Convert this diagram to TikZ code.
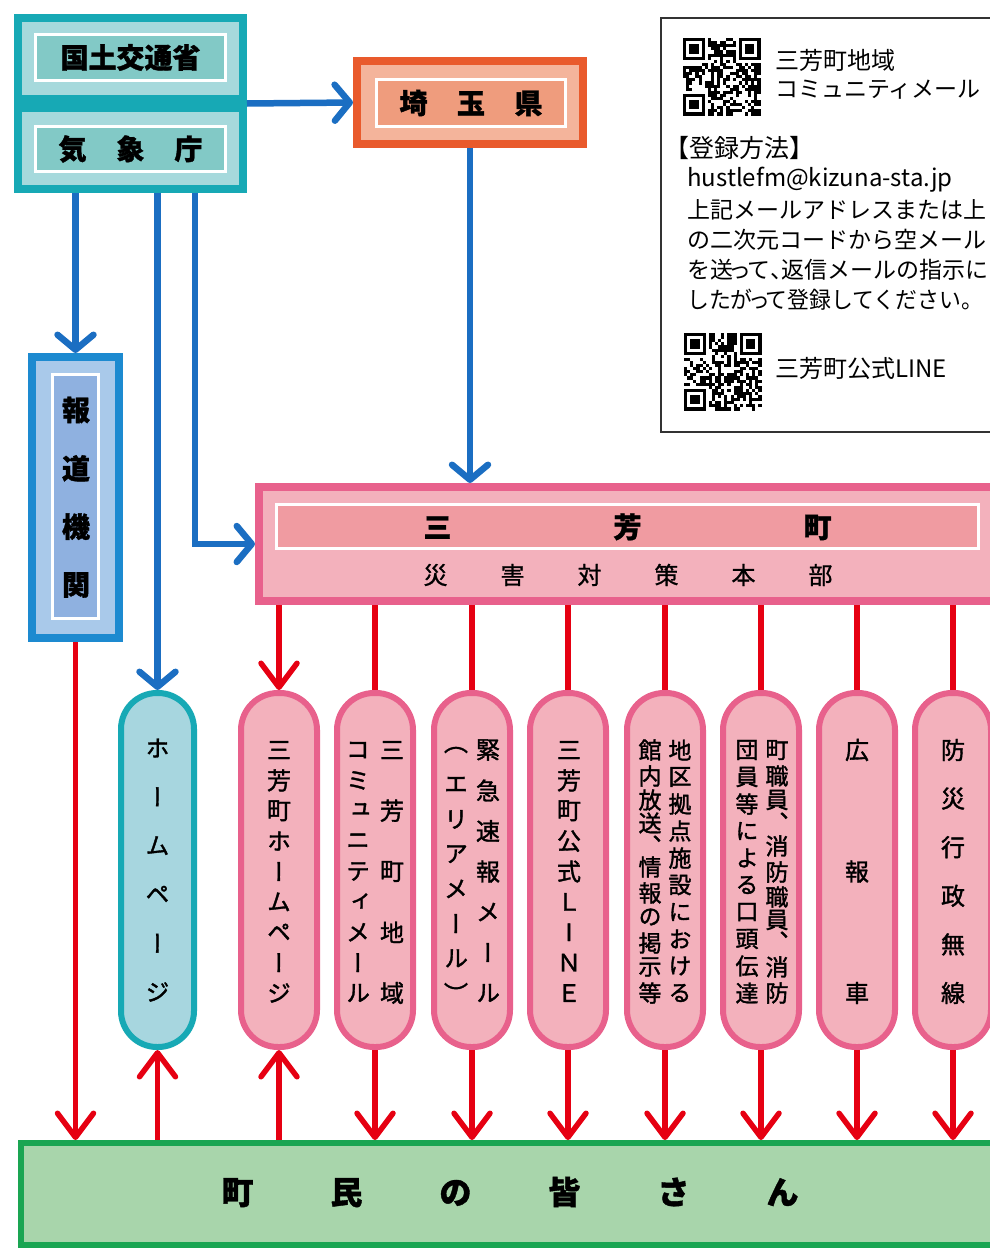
\documentclass[tikz,border=0pt]{standalone}
\usepackage{fontspec}
\setmainfont{Noto Sans CJK JP}[BoldFeatures={FakeBold=1.2}]
\newfontfamily\jpv{Noto Sans CJK JP}[RawFeature=+vert, FakeBold=1.5, BoldFeatures={FakeBold=1.2}]
\newfontfamily\jpm{Noto Sans CJK JP}[FakeBold=1.0]
\usetikzlibrary{arrows.meta}
\definecolor{cTealB}{HTML}{17A9B5}
\definecolor{cTealL}{HTML}{A6D9DC}
\definecolor{cTealM}{HTML}{82C9C6}
\definecolor{cBlue}{HTML}{1B6EC2}
\definecolor{cOrB}{HTML}{E95A2C}
\definecolor{cOrL}{HTML}{F4B49B}
\definecolor{cOrM}{HTML}{EF9C7D}
\definecolor{cPrB}{HTML}{1D8AD0}
\definecolor{cPrL}{HTML}{A9C9EA}
\definecolor{cPrM}{HTML}{8FB1E0}
\definecolor{cPkB}{HTML}{E8618C}
\definecolor{cPkL}{HTML}{F3B1BC}
\definecolor{cPkM}{HTML}{F09BA1}
\definecolor{cHpL}{HTML}{A7D6DF}
\definecolor{cRed}{HTML}{E60012}
\definecolor{cGrB}{HTML}{1AA552}
\definecolor{cGrL}{HTML}{A8D5AB}
\definecolor{cGray}{HTML}{333333}

\newcommand\qrcode[3]{%
  \begin{scope}[shift={(#1,#2)}]
    \pgfmathsetseed{#3}
    \foreach \qi in {0,...,24}{
      \foreach \qj in {0,...,24}{
        \pgfmathtruncatemacro\qrskip{((\qi<8)&&(\qj<8))||((\qi>16)&&(\qj<8))||((\qi<8)&&(\qj>16))}
        \ifnum\qrskip=0
          \pgfmathtruncatemacro\qron{rnd<0.55}
          \ifnum\qron=1 \fill[black] (\qi*3.1,\qj*3.1) rectangle ++(3.1,3.1);\fi
        \fi
      }
    }
    \foreach \qa/\qb in {0/0,55.8/0,0/55.8}{
      \fill[black] (\qa,\qb) rectangle ++(21.7,21.7);
      \fill[white] (\qa+3.1,\qb+3.1) rectangle ++(15.5,15.5);
      \fill[black] (\qa+6.2,\qb+6.2) rectangle ++(9.3,9.3);
    }
  \end{scope}}

% #1 style, #2 name, #3 x, #4 ytop, #5 ybot, #6 n, #7 list
\newcommand\vcolumn[7]{%
  \foreach \ch [count=\k from 0] in {#7}{
    \node[#1] (#2-\k) at ({#3},{#4+\k*(#5-#4)/(#6-1)}) {\ch};
  }}
% #1 style, #2 name, #3 x, #4 list y/char
\newcommand\vcolumnxy[4]{%
  \foreach \yy/\ch [count=\k] in {#4}{
    \node[#1] (#2-\k) at (#3,\yy) {\ch};
  }}
\newcommand\nar[1]{\makebox[0.6em][c]{#1}}
\newcommand\hcm{\makebox[0.5em][l]{、}}

\tikzset{
  plainbox/.style={inner sep=0pt, outer sep=0pt},
  bluearrow/.style={draw=cBlue, line width=6.5pt, -{Straight Barb[length=15pt,width=36pt,round]}},
  redline/.style={draw=cRed, line width=5.5pt},
  redarrow/.style={redline, -{Straight Barb[length=24pt,width=36pt,round]}},
  pinkpill/.style={draw=cPkB, fill=cPkL, line width=6pt, minimum width=76pt, minimum height=354pt, rounded corners=37pt, inner sep=0pt},
  bluepill/.style={draw=cTealB, fill=cHpL, line width=6pt, minimum width=73pt, minimum height=354pt, rounded corners=36pt, inner sep=0pt},
  boldtxt/.style={font=\bfseries\fontsize{28}{28}\selectfont, inner sep=0pt},
  vchar/.style={font=\jpv\fontsize{24}{24}\selectfont, inner sep=0pt},
  vcharsm/.style={font=\jpv\fontsize{23}{23}\selectfont, inner sep=0pt},
  vbold/.style={font=\jpv\bfseries\fontsize{28}{28}\selectfont, inner sep=0pt},
  infotxt/.style={font=\fontsize{23}{30}\selectfont, inner sep=0pt, anchor=west},
}

\begin{document}
\begin{tikzpicture}[x=1pt,y=-1pt]
\useasboundingbox[fill=white] (0,0) rectangle (990,1250);

% ---- info box (top right)
\node[draw=cGray, fill=white, line width=2pt, minimum width=343pt, minimum height=414pt, plainbox] (info) at (832.5,225) {};
\qrcode{683}{38}{7}
\qrcode{684}{333}{19}
\node[infotxt, font=\fontsize{24}{30}\selectfont] (i1) at (775,60) {三芳町地域};
\node[infotxt] (i2) at (775,90) {コミュニティメール};
\node[infotxt, font=\fontsize{25}{30}\selectfont] (i3) at (664,148) {【登録方法】};
\node[infotxt, font=\fontsize{24}{30}\selectfont] (i4) at (687,180) {hustlefm@kizuna-sta.jp};
\node[infotxt] (i5) at (687,210) {上記メールアドレスまたは上};
\node[infotxt] (i6) at (687,240) {の二次元コードから空メール};
\node[infotxt] (i7) at (687,270) {を送\nar{っ}て\hcm 返信メールの指示に};
\node[infotxt] (i8) at (687,300) {\scalebox{0.95}[1]{したが\nar{っ}て登録してください。}};
\node[infotxt, font=\fontsize{24}{30}\selectfont] (i9) at (775,368) {三芳町公式LINE};

% ---- MLIT / JMA group
\node[fill=cTealB, minimum width=233pt, minimum height=179pt, plainbox] (grp) at (130.5,103.5) {};
\node[fill=cTealL, minimum width=217pt, minimum height=73pt, plainbox] (mlitp) at (130.5,58.5) {};
\node[fill=cTealL, minimum width=217pt, minimum height=73pt, plainbox] (jmap) at (130.5,148.5) {};
\node[fill=cTealM, draw=white, line width=3pt, minimum width=190pt, minimum height=46pt, inner sep=0pt] (mlit) at (130.5,57.5) {};
\node[fill=cTealM, draw=white, line width=3pt, minimum width=190pt, minimum height=45pt, inner sep=0pt] (jma) at (130.5,149) {};
\node[boldtxt] (t-mlit) at (mlit) {国土交通省};
\node[boldtxt] (t-jma) at (jma) {気\hspace{30pt}象\hspace{30pt}庁};

% ---- Saitama
\node[draw=cOrB, fill=cOrL, line width=8pt, minimum width=226pt, minimum height=83pt, inner sep=0pt] (sai) at (470,102.5) {};
\node[fill=cOrM, draw=white, line width=3pt, minimum width=189pt, minimum height=47pt, inner sep=0pt] (saiin) at (471,103) {};
\node[boldtxt] (t-sai) at (saiin) {埼\hspace{29.5pt}玉\hspace{29.5pt}県};

% ---- Press
\node[draw=cPrB, fill=cPrL, line width=8pt, minimum width=87pt, minimum height=281pt, inner sep=0pt] (press) at (75.5,497.5) {};
\node[fill=cPrM, draw=white, line width=3pt, minimum width=46pt, minimum height=244pt, inner sep=0pt] (pressin) at (75.5,496.5) {};
\vcolumn{vbold}{tp}{76}{410}{585}{4}{報,道,機,関}

% ---- Miyoshi HQ
\node[draw=cPkB, fill=cPkL, line width=8pt, minimum width=742pt, minimum height=114pt, inner sep=0pt] (hq) at (630,544) {};
\node[fill=cPkM, draw=white, line width=3pt, minimum width=702pt, minimum height=44pt, inner sep=0pt] (hqin) at (627.5,526.5) {};
\node[boldtxt] (t-hq1) at (627.5,527) {三\hspace{162pt}芳\hspace{162pt}町};
\node[font=\jpm\fontsize{24}{24}\selectfont, inner sep=0pt] (t-hq2) at (628,575) {災\hspace{53pt}害\hspace{53pt}対\hspace{53pt}策\hspace{53pt}本\hspace{53pt}部};

% ---- pills
\node[bluepill] (hp) at (157.5,870) {};
\node[pinkpill] (p1) at (279,870) {};
\node[pinkpill] (p2) at (375,870) {};
\node[pinkpill] (p3) at (472,870) {};
\node[pinkpill] (p4) at (568,870) {};
\node[pinkpill] (p5) at (665,870) {};
\node[pinkpill] (p6) at (761,870) {};
\node[pinkpill] (p7) at (857,870) {};
\node[pinkpill] (p8) at (953,870) {};

\vcolumn{vchar}{thp}{157.5}{748}{992}{6}{ホ,ー,ム,ペ,ー,ジ}
\vcolumn{vchar}{tp1}{279}{750}{993}{9}{三,芳,町,ホ,ー,ム,ペ,ー,ジ}
\vcolumn{vchar}{tp2r}{392}{750}{993}{5}{三,芳,町,地,域}
\vcolumn{vchar}{tp2l}{358}{750}{993}{9}{コ,ミ,ュ,ニ,テ,ィ,メ,ー,ル}
\vcolumn{vchar}{tp3r}{488}{750}{993}{7}{緊,急,速,報,メ,ー,ル}
\vcolumn{vchar}{tp3l}{456}{750}{993}{8}{（,エ,リ,ア,メ,ー,ル,）}
\vcolumn{vchar}{tp4}{569}{750}{993}{9}{三,芳,町,公,式,Ｌ,I,Ｎ,Ｅ}
\vcolumn{vcharsm}{tp5r}{680}{750}{993}{10}{地,区,拠,点,施,設,に,お,け,る}
\vcolumnxy{vcharsm}{tp5l}{650}{750/館,776/内,800/放,823/送,845/、,867/情,893/報,917/の,943/掲,967/示,993/等}
\vcolumnxy{vcharsm}{tp6r}{777}{750/町,776/職,800/員,822/、,846/消,872/防,897/職,920/員,941/、,967/消,993/防}
\vcolumn{vcharsm}{tp6l}{747}{750}{993}{10}{団,員,等,に,よ,る,口,頭,伝,達}
\vcolumn{vchar}{tp7}{857}{750}{993}{3}{広,報,車}
\vcolumn{vchar}{tp8}{953}{750}{993}{6}{防,災,行,政,無,線}

% ---- residents
\node[draw=cGrB, fill=cGrL, line width=6pt, minimum width=981pt, minimum height=102pt, inner sep=0pt] (town) at (511.5,1194) {};
\node[font=\bfseries\fontsize{32}{32}\selectfont, inner sep=0pt] (t-town) at (510,1192) {町\hspace{77pt}民\hspace{77pt}の\hspace{77pt}皆\hspace{77pt}さ\hspace{77pt}ん};

% ---- blue connectors
\coordinate (gbr) at (195,193);
\draw[bluearrow] (grp.east) -- (sai.west);
\draw[bluearrow] (sai.south) -- (sai.south |- hq.north);
\draw[bluearrow] (press.north |- grp.south) -- (press.north);
\draw[bluearrow] (hp.north |- grp.south) -- (hp.north);
\draw[bluearrow] (gbr) |- (hq.west);

% ---- red connectors
\draw[redarrow] (p1.north |- hq.south) -- (p1.north);
\foreach \p in {p2,p3,p4,p5,p6,p7,p8}{
  \draw[redline] (\p.north |- hq.south) -- (\p.north);
  \draw[redarrow] (\p.south) -- (\p.south |- town.north);
}
\draw[redarrow] (hp.south |- town.north) -- (hp.south);
\draw[redarrow] (p1.south |- town.north) -- (p1.south);
\draw[redarrow] (press.south) -- (press.south |- town.north);
\end{tikzpicture}
\end{document}
